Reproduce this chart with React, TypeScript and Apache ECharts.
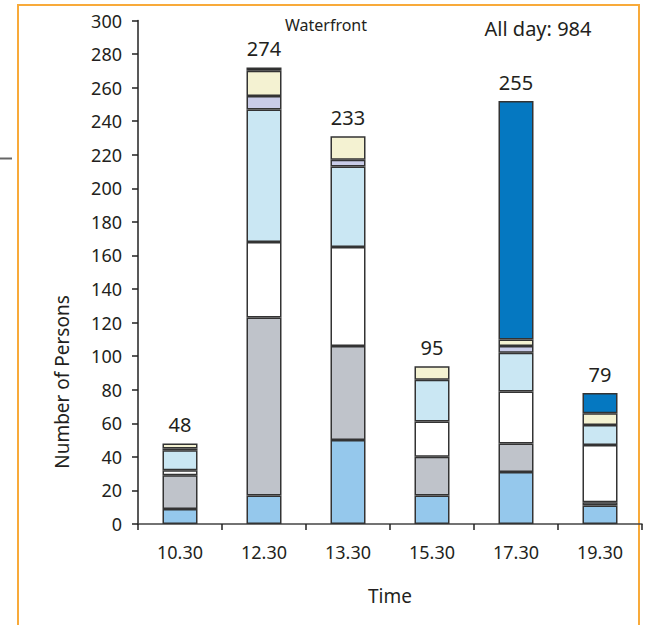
import React, { useEffect, useRef } from "react";
import * as echarts from "echarts";

const categories = ["10.30", "12.30", "13.30", "15.30", "17.30", "19.30"];
const lightBlue = [9, 17, 50, 17, 31, 11];
const grayVals = [20, 106, 56, 23, 17, 2];
const whiteVals = [3, 45, 59, 21, 31, 34];
const cyanVals = [12, 79, 48, 25, 23, 12];
const lavenderVals = [1, 8, 4, 0, 4, 0];
const creamVals = [3, 15, 14, 8, 4, 7];
const blueVals = [0, 0, 0, 0, 142, 12];
const blackVals = [0, 2, 0, 0, 0, 0];
const totals = [48, 274, 233, 95, 255, 79];
const yTicks = { min: 0, max: 300, interval: 20 };

const FONT = "Noto Sans";
const TEXT = "#231F20";
const FRAME = "#F8AA3A";

const segments = [
  { name: "s1", data: lightBlue, color: "#95C8EC" },
  { name: "s2", data: grayVals, color: "#BFC3CA" },
  { name: "s3", data: whiteVals, color: "#FFFFFF" },
  { name: "s4", data: cyanVals, color: "#CAE7F3" },
  { name: "s5", data: lavenderVals, color: "#C9CCE8" },
  { name: "s6", data: creamVals, color: "#F4F2D2" },
  { name: "s7", data: blueVals, color: "#0578C1" },
  { name: "s8", data: blackVals, color: "#231F20" },
];

export default function App() {
  const ref = useRef<HTMLDivElement>(null);
  useEffect(() => {
    if (!ref.current) return;
    const chart = echarts.init(ref.current, undefined, { renderer: "svg" });
    const series: any[] = segments.map((s) => ({
      name: s.name,
      type: "bar",
      stack: "all",
      barWidth: 35,
      data: s.data.map((v) => (v === 0 ? "-" : v)),
      itemStyle: { color: s.color, borderColor: "#333333", borderWidth: 1.5 },
    }));
    series.push({
      name: "total",
      type: "bar",
      stack: "all",
      barWidth: 35,
      data: totals.map(() => 0),
      itemStyle: { color: "transparent", borderWidth: 0 },
      label: {
        show: true,
        position: "top",
        distance: 9,
        fontFamily: FONT,
        fontSize: 20,
        color: TEXT,
        formatter: (p: any) => String(totals[p.dataIndex]),
      },
    });
    chart.setOption({
      animation: false,
      grid: { left: 138, right: 4, top: 20.5, bottom: 101 },
      xAxis: {
        type: "category",
        data: categories,
        name: "Time",
        nameLocation: "middle",
        nameGap: 62,
        nameTextStyle: { fontFamily: FONT, fontSize: 19, color: TEXT },
        axisLine: { lineStyle: { color: "#444", width: 1.5 } },
        axisTick: { show: true, length: 6, lineStyle: { color: "#222", width: 1.5 } },
        axisLabel: { margin: 19, fontFamily: FONT, fontSize: 18, color: TEXT },
      },
      yAxis: {
        type: "value",
        min: yTicks.min,
        max: yTicks.max,
        interval: yTicks.interval,
        splitLine: { show: false },
        axisLine: { show: true, lineStyle: { color: "#222", width: 1.5 } },
        axisTick: { show: true, length: 6, lineStyle: { color: "#222", width: 1.5 } },
        axisLabel: { margin: 16, fontFamily: FONT, fontSize: 18, color: TEXT },
      },
      series,
      graphic: [
        { type: "line", shape: { x1: 18, y1: 5, x2: 18, y2: 625 }, style: { stroke: FRAME, lineWidth: 2 } },
        { type: "line", shape: { x1: 17, y1: 5, x2: 640, y2: 5 }, style: { stroke: FRAME, lineWidth: 2 } },
        { type: "line", shape: { x1: 639, y1: 5, x2: 639, y2: 625 }, style: { stroke: FRAME, lineWidth: 2 } },
        { type: "line", shape: { x1: 0, y1: 158.5, x2: 12, y2: 158.5 }, style: { stroke: "#666", lineWidth: 2 } },
        {
          type: "text",
          x: 326,
          y: 25,
          style: { text: "Waterfront", fontFamily: FONT, fontSize: 16, fill: TEXT, textAlign: "center", textVerticalAlign: "middle" },
        },
        {
          type: "text",
          x: 538,
          y: 28,
          style: { text: "All day: 984", fontFamily: FONT, fontSize: 20, fill: TEXT, textAlign: "center", textVerticalAlign: "middle" },
        },
        {
          type: "text",
          x: 62,
          y: 382,
          rotation: Math.PI / 2,
          style: { text: "Number of Persons", fontFamily: FONT, fontSize: 19, fill: TEXT, textAlign: "center", textVerticalAlign: "middle" },
        },
      ],
    });
    return () => chart.dispose();
  }, []);
  return <div ref={ref} style={{ position: "fixed", left: 0, top: 0, width: 646, height: 625, background: "#fff" }} />;
}
